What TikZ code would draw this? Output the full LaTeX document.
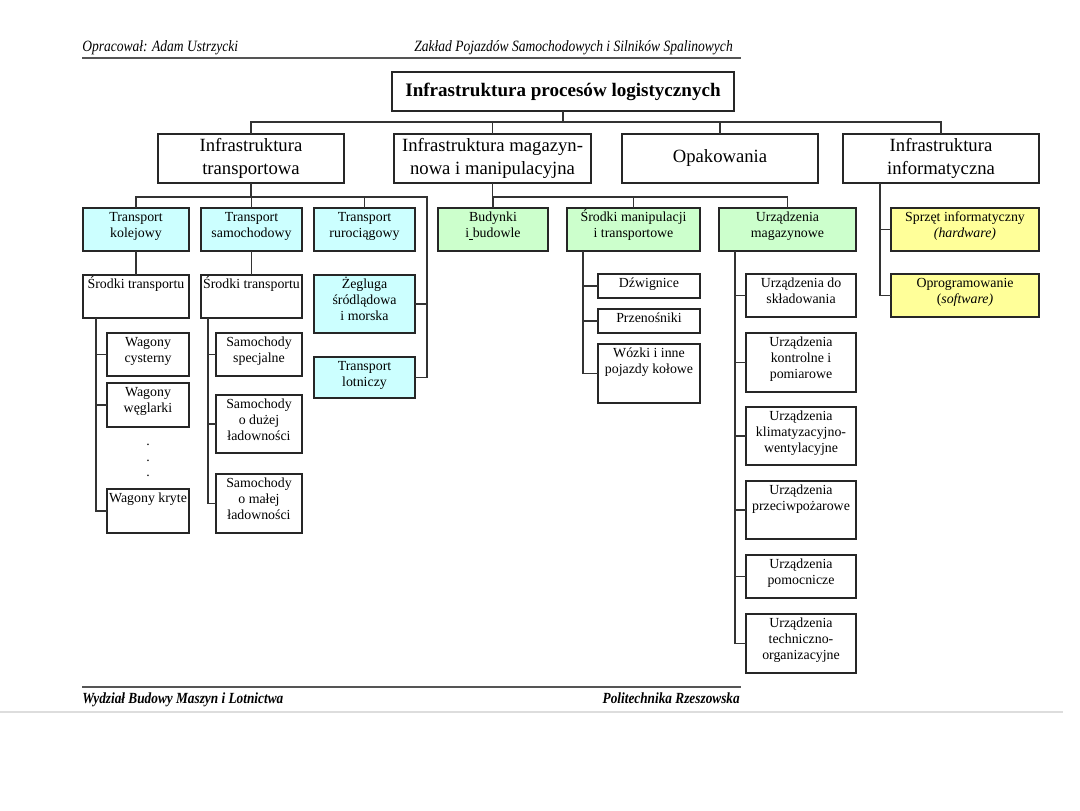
\documentclass[tikz,border=0pt]{standalone}
\usepackage{fontspec}
\setmainfont{Liberation Serif}
\newfontfamily\hdrfont[FakeStretch=0.86]{Liberation Serif}
\usetikzlibrary{calc}
\definecolor{cy}{HTML}{CCFFFF}
\definecolor{gr}{HTML}{CCFFCC}
\definecolor{ye}{HTML}{FFFF99}
\definecolor{ln}{HTML}{333333}
\definecolor{rule}{HTML}{555555}
\definecolor{pageline}{HTML}{DDDDDD}
\tikzset{
  box/.style={draw=black!85, line width=0.95pt, inner sep=0pt, outer sep=0pt},
  txt/.style={align=center, inner sep=0pt, font=\fontsize{10.4}{11.9}\selectfont},
  big/.style={align=center, inner sep=0pt, font=\fontsize{14}{16.7}\selectfont},
  conn/.style={draw=ln, line width=0.9pt},
  hdr/.style={inner sep=0pt, font=\hdrfont\itshape\fontsize{11.8}{13}\selectfont},
  ftr/.style={inner sep=0pt, font=\hdrfont\bfseries\itshape\fontsize{11.6}{13}\selectfont},
}
% box with text at the top
\newcommand\bx[7]{%
  \pgfmathsetmacro\bw{(#4-#2)*0.75}%
  \pgfmathsetmacro\bh{(#5-#3)*0.75}%
  \node[box,#6,minimum width=\bw pt,minimum height=\bh pt,anchor=north west] (#1) at (#2,#3) {};
  \node[txt,anchor=north] (#1-t) at ([yshift=-1.0pt]#1.north) {\vphantom{Ś}#7};
}
% box with centred text
\newcommand\bc[7]{%
  \pgfmathsetmacro\bw{(#4-#2)*0.75}%
  \pgfmathsetmacro\bh{(#5-#3)*0.75}%
  \node[box,big,#6,minimum width=\bw pt,minimum height=\bh pt,anchor=north west] (#1) at (#2,#3) {#7};
}
\begin{document}
\begin{tikzpicture}[x=0.75pt,y=-0.75pt]
\useasboundingbox (0,0) rectangle (1080,810);
\fill[white] (0,0) rectangle (1080,810);

% header and footer
\node[hdr,anchor=base west] (h1) at (82,51) {Opracował: Adam Ustrzycki};
\node[hdr,anchor=base east] (h2) at (733,51) {Zakład Pojazdów Samochodowych i Silników Spalinowych};
\draw[rule,line width=1.4pt] (82,58) -- (741,58);
\draw[rule,line width=1.4pt] (82,687) -- (741,687);
\node[ftr,anchor=base west] (f1) at (82,703) {Wydział Budowy Maszyn i Lotnictwa};
\node[ftr,anchor=base east] (f2) at (740,703) {Politechnika Rzeszowska};
\draw[pageline,line width=1pt] (0,712) -- (1063,712);

% root and level 1
\bc{root}{392}{72}{734}{111}{font=\fontsize{14.3}{16}\selectfont\bfseries}{Infrastruktura procesów logistycznych}
\bc{A}{158}{134}{344}{183}{}{Infrastruktura\\transportowa}
\bc{B}{394}{134}{591}{183}{}{Infrastruktura magazyn-\\nowa i manipulacyjna}
\bc{C}{622}{134}{818}{183}{}{Opakowania}
\bc{D}{843}{134}{1039}{183}{}{Infrastruktura\\informatyczna}

% level 2
\bx{kol}{83}{208}{189}{251}{fill=cy}{Transport\\kolejowy}
\bx{sam}{201}{208}{302}{251}{fill=cy}{Transport\\samochodowy}
\bx{rur}{314}{208}{415}{251}{fill=cy}{Transport\\rurociągowy}
\bx{zeg}{314}{275}{415}{333}{fill=cy}{Żegluga\\śródlądowa\\i morska}
\bx{lot}{314}{357}{415}{398}{fill=cy}{Transport\\lotniczy}
\bx{bud}{438}{208}{548}{251}{fill=gr}{Budynki\\i\underline{\ }budowle}
\bx{srm}{567}{208}{700}{251}{fill=gr}{Środki manipulacji\\i transportowe}
\bx{urm}{719}{208}{856}{251}{fill=gr}{Urządzenia\\magazynowe}
\bx{hw}{891}{208}{1039}{251}{fill=ye}{Sprzęt informatyczny\\\textit{(hardware)}}
\bx{sw}{891}{274}{1039}{317}{fill=ye}{Oprogramowanie\\(\textit{software)}}

% level 3
\bx{sr1}{83}{275}{189}{318}{}{Środki transportu}
\bx{sr2}{201}{275}{302}{318}{}{Środki transportu}
\bx{wc}{107}{333}{189}{376}{}{Wagony\\cysterny}
\bx{ww}{107}{383}{189}{427}{}{Wagony\\węglarki}
\bx{wk}{107}{489}{189}{533}{}{Wagony kryte}
\node[txt,anchor=north] (dots) at (148,443.5) {.\\.\\.};
\bx{ss}{216}{333}{302}{376}{}{Samochody\\specjalne}
\bx{sd}{216}{395}{302}{453}{}{Samochody\\o dużej\\ładowności}
\bx{sm}{216}{474}{302}{533}{}{Samochody\\o małej\\ładowności}
\bx{dzw}{598}{274}{700}{298}{}{Dźwignice}
\bx{prz}{598}{309}{700}{333}{}{Przenośniki}
\bx{woz}{598}{344}{700}{403}{}{Wózki i inne\\pojazdy kołowe}
\bx{u1}{746}{274}{856}{317}{}{Urządzenia do\\składowania}
\bx{u2}{746}{333}{856}{392}{}{Urządzenia\\kontrolne i\\pomiarowe}
\bx{u3}{746}{407}{856}{465}{}{Urządzenia\\klimatyzacyjno-\\wentylacyjne}
\bx{u4}{746}{481}{856}{539}{}{Urządzenia\\przeciwpożarowe}
\bx{u5}{746}{555}{856}{598}{}{Urządzenia\\pomocnicze}
\bx{u6}{746}{614}{856}{673}{}{Urządzenia\\techniczno-\\organizacyjne}

% connectors: root to level 1
\foreach \n in {A,B,C,D}
  \draw[conn] (root.south) -- ++(0,11) -| (\n.north);

% transport branch
\foreach \n in {kol,sam,rur}
  \draw[conn] (A.south) -- ++(0,14) -| (\n.north);
\coordinate (aR) at (427,197);
\draw[conn] (A.south) -- ++(0,14) -| (aR) |- (lot.east);
\draw[conn] (aR) |- (zeg.east);
\draw[conn] (kol.south) -- (sr1.north);
\draw[conn] (sam.south) -- (sr2.north);
\foreach \n in {wc,ww,wk}
  \draw[conn] ($(sr1.south west)+(13,0)$) |- (\n.west);
\foreach \n in {ss,sd,sm}
  \draw[conn] ($(sr2.south west)+(7,0)$) |- (\n.west);

% warehouse branch
\foreach \n in {bud,srm,urm}
  \draw[conn] (B.south) -- ++(0,14) -| (\n.north);
\foreach \n in {dzw,prz,woz}
  \draw[conn] ($(srm.south west)+(16,0)$) |- (\n.west);
\foreach \n in {u1,u2,u3,u4,u5,u6}
  \draw[conn] ($(urm.south west)+(16,0)$) |- (\n.west);

% IT branch
\foreach \n in {hw,sw}
  \draw[conn] ($(D.south west)+(37,0)$) |- (\n.west);
\end{tikzpicture}
\end{document}
